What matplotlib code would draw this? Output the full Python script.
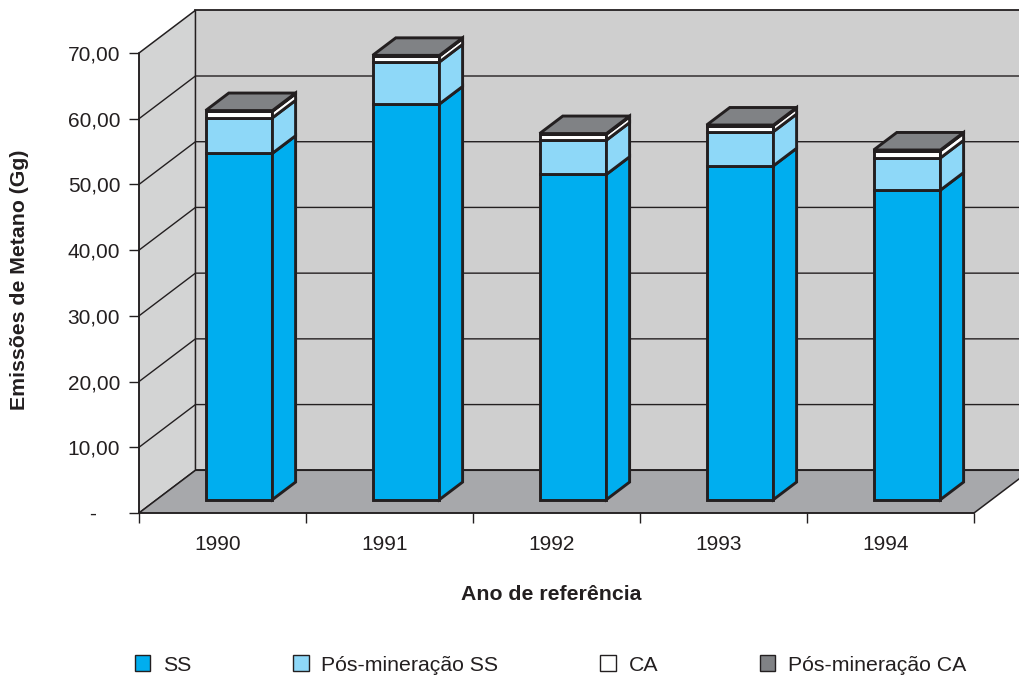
import matplotlib
matplotlib.use('Agg')
import matplotlib.pyplot as plt
from matplotlib.patches import Polygon, Patch

plt.rcParams['font.family'] = ['Liberation Sans', 'DejaVu Sans']

anos = ['1990', '1991', '1992', '1993', '1994']
ss = [52.7, 60.2, 49.5, 50.8, 47.1]
pos_ss = [5.4, 6.4, 5.2, 5.2, 4.9]
ca = [1.0, 0.9, 0.9, 0.9, 1.1]
pos_ca = [0.1, 0.1, 0.1, 0.1, 0.1]
series = [ss, pos_ss, ca, pos_ca]
nomes = ['SS', 'Pós-mineração SS', 'CA', 'Pós-mineração CA']
cores = ['#00aeef', '#8ed8f8', '#ffffff', '#808285']
yticks = [0, 10, 20, 30, 40, 50, 60, 70]
ylabels = ['-    ', '10,00', '20,00', '30,00', '40,00', '50,00', '60,00', '70,00']

preto = '#231f20'
fs = 15
fs_b = 15.3

# profundidade do "3D" em unidades dos eixos
dx = 0.338
dy = 6.5


def proj(x, y, d):
    return (x + dx * d, y + dy * d)


fig = plt.figure(figsize=(10.2, 6.78), dpi=100)
ax = fig.add_axes([139 / 1020, 1 - 513 / 678, (974 - 139) / 1020, (513 - 53) / 678])
ax.set_xlim(0, 5)
ax.set_ylim(0, 70)
ax.patch.set_visible(False)


def poly(pts, cor, lw=1.2, z=1):
    ax.add_patch(Polygon(pts, closed=True, facecolor=cor, edgecolor=preto, linewidth=lw,
                         joinstyle='miter', clip_on=False, zorder=z))


# paredes e chao
poly([proj(0, 0, 1), proj(5, 0, 1), proj(5, 70, 1), proj(0, 70, 1)], '#cfcfcf', 1.3)
poly([proj(0, 0, 0), proj(0, 0, 1), proj(0, 70, 1), proj(0, 70, 0)], '#d3d4d4', 1.1)
poly([proj(0, 0, 0), proj(5, 0, 0), proj(5, 0, 1), proj(0, 0, 1)], '#a7a8ab', 1.1)
for v in yticks[1:-1]:
    x0, y0 = proj(0, v, 0)
    x1, y1 = proj(0, v, 1)
    x2, y2 = proj(5, v, 1)
    ax.plot([x0, x1, x2], [y0, y1, y2], color=preto, lw=1.0, clip_on=False, zorder=1.5)

# barras empilhadas
d0 = 0.314
d1 = 0.724
larg = 0.40
for i in range(len(anos)):
    c = i + 0.493
    esq = c - larg / 2
    dir_ = c + larg / 2
    base = 0
    for j, s in enumerate(series):
        topo = base + s[i]
        poly([proj(esq, base, d0), proj(dir_, base, d0), proj(dir_, topo, d0), proj(esq, topo, d0)],
             cores[j], 2.1, 3)
        poly([proj(dir_, base, d0), proj(dir_, base, d1), proj(dir_, topo, d1), proj(dir_, topo, d0)],
             cores[j], 2.1, 3)
        base = topo
    poly([proj(esq, base, d0), proj(dir_, base, d0), proj(dir_, base, d1), proj(esq, base, d1)],
         cores[3], 2.1, 3)

for lado in ['top', 'right']:
    ax.spines[lado].set_visible(False)
for lado in ['left', 'bottom']:
    ax.spines[lado].set_color(preto)
    ax.spines[lado].set_linewidth(1.1)
    ax.spines[lado].set_zorder(2)

ax.set_yticks(yticks)
ax.set_yticklabels(ylabels, fontsize=fs, color=preto)
ax.set_xticks(range(6))
ax.set_xticklabels([])
ax.set_xticks([i + 0.47 for i in range(5)], minor=True)
ax.set_xticklabels(anos, minor=True, fontsize=fs, color=preto)
ax.tick_params(axis='y', length=7.5, width=1.0, color=preto, pad=6)
ax.tick_params(axis='x', which='major', length=7.5, width=1.0, color=preto)
ax.tick_params(axis='x', which='minor', length=0, pad=16)

fig.text(551 / 1020, 1 - 594 / 678, 'Ano de referência', fontsize=fs_b, fontweight='bold',
         color=preto, ha='center', va='center')
fig.text(20 / 1020, 1 - 280 / 678, 'Emissões de Metano (Gg)', fontsize=fs_b, fontweight='bold',
         color=preto, ha='center', va='center', rotation=90)

handles = [Patch(facecolor=c, edgecolor=preto, linewidth=1.0) for c in cores]
fig.legend(handles, nomes, ncol=4, loc='center left', bbox_to_anchor=(135 / 1020, 1 - 665 / 678),
           frameon=False, fontsize=fs_b, handlelength=0.72, handleheight=0.72, handletextpad=0.6,
           columnspacing=4.8, borderaxespad=0, borderpad=0, labelcolor=preto)

fig.savefig('out.png', dpi=100)
